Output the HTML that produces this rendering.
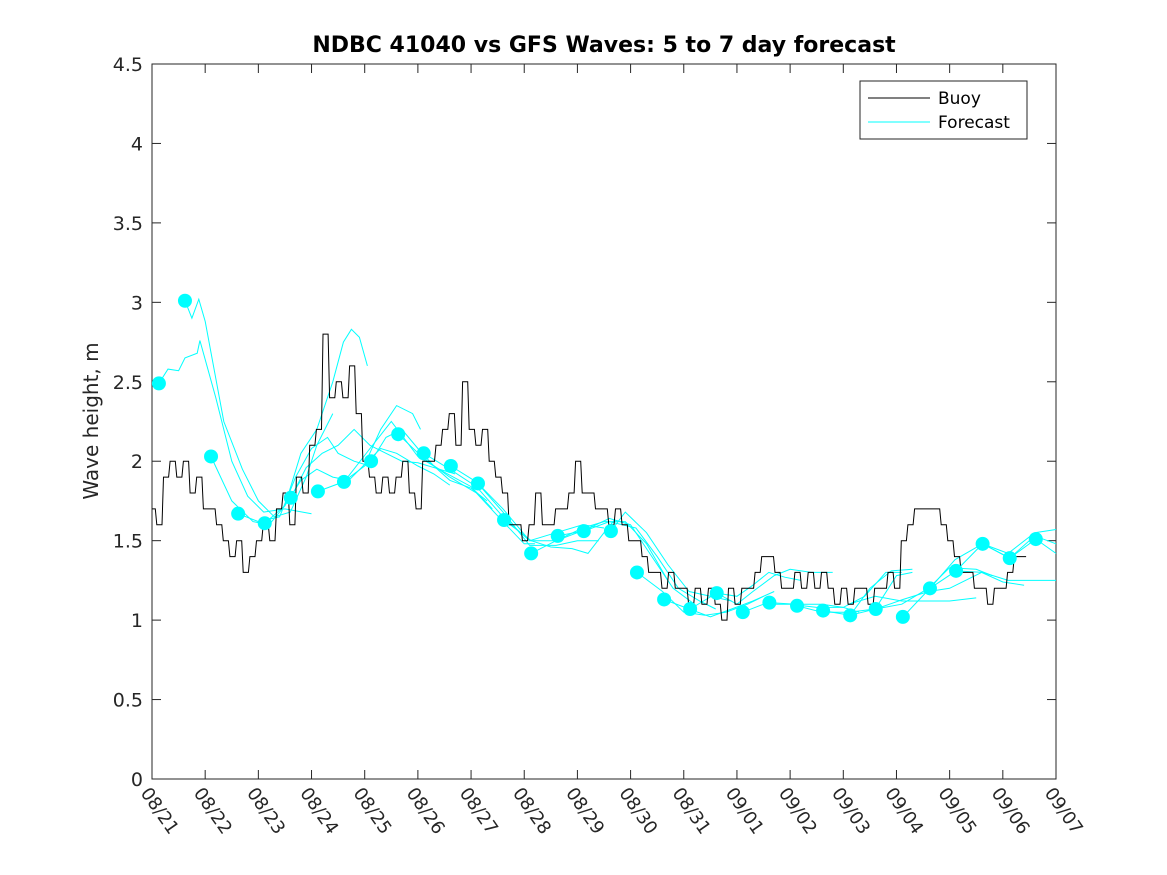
<!DOCTYPE html>
<html><head><meta charset="utf-8"><style>
body{margin:0;background:#fff;}
svg{display:block;font-family:"DejaVu Sans","Liberation Sans",sans-serif;}
</style></head><body>
<svg id="chart" width="1167" height="875" xmlns="http://www.w3.org/2000/svg">
<rect width="1167" height="875" fill="#fff"/>
<text x="604" y="52" text-anchor="middle" font-size="22" font-weight="bold" fill="#000">NDBC 41040 vs GFS Waves: 5 to 7 day forecast</text>
<text transform="translate(98,421) rotate(-90)" text-anchor="middle" font-size="20" fill="#262626">Wave height, m</text>
<g id="grid"></g>
<g id="series"></g>
<g>
<rect x="860" y="81" width="167" height="58" fill="#fff" stroke="#262626" stroke-width="1"/>
<line x1="868" y1="98" x2="930" y2="98" stroke="#000" stroke-width="1"/>
<text x="938" y="104" font-size="17" fill="#000">Buoy</text>
<line x1="868" y1="122" x2="930" y2="122" stroke="#00ffff" stroke-width="1"/>
<text x="938" y="128" font-size="17" fill="#000">Forecast</text>
</g>
</svg>
<script>
const xTickLabels=["08/21","08/22","08/23","08/24","08/25","08/26","08/27","08/28","08/29","08/30","08/31","09/01","09/02","09/03","09/04","09/05","09/06","09/07"];
const yTicks=[0,0.5,1,1.5,2,2.5,3,3.5,4,4.5];
const yTickLabels=["0","0.5","1","1.5","2","2.5","3","3.5","4","4.5"];
const buoyStart=0;
const buoyStep=0.125;
const buoyValues=[1.7,1.6,1.9,2.0,1.9,2.0,1.8,1.9,
1.7,1.7,1.6,1.5,1.4,1.5,1.3,1.4,
1.5,1.6,1.5,1.7,1.8,1.6,1.9,1.8,
2.1,2.2,2.8,2.4,2.5,2.4,2.6,2.3,
2.0,1.9,1.8,1.9,1.8,1.9,2.0,1.8,
1.7,2.0,2.0,2.1,2.2,2.3,2.1,2.5,
2.2,2.1,2.2,2.0,1.9,1.8,1.6,1.6,
1.5,1.6,1.8,1.6,1.6,1.7,1.7,1.8,
2.0,1.8,1.8,1.7,1.7,1.6,1.7,1.6,
1.5,1.5,1.4,1.3,1.3,1.2,1.3,1.2,
1.2,1.1,1.2,1.1,1.2,1.1,1.0,1.2,
1.1,1.2,1.2,1.3,1.4,1.4,1.3,1.2,
1.2,1.3,1.2,1.3,1.2,1.3,1.2,1.1,
1.2,1.1,1.2,1.2,1.1,1.2,1.2,1.3,
1.2,1.5,1.6,1.7,1.7,1.7,1.7,1.6,
1.5,1.4,1.3,1.3,1.2,1.2,1.1,1.2,
1.2,1.3,1.4,1.4];
const markerDays=[0.13,0.62,1.11,1.62,2.12,2.61,3.12,3.61,4.12,4.63,5.11,5.62,6.13,6.62,7.13,7.63,8.12,8.63,9.12,9.63,10.12,10.62,11.11,11.61,12.13,12.62,13.13,13.61,14.12,14.63,15.12,15.62,16.13,16.62];
const markerValues=[2.49,3.01,2.03,1.67,1.61,1.77,1.81,1.87,2.00,2.17,2.05,1.97,1.86,1.63,1.42,1.53,1.56,1.56,1.30,1.13,1.07,1.17,1.05,1.11,1.09,1.06,1.03,1.07,1.02,1.20,1.31,1.48,1.39,1.51];
const forecastLines=[
[[0.13,2.49],[0.3,2.58],[0.5,2.57],[0.62,2.65],[0.85,2.68],[0.9,2.76],[1.2,2.4],[1.5,2.0],[1.8,1.78],[2.1,1.68],[2.5,1.7],[3.0,1.67]],
[[0.62,3.01],[0.75,2.9],[0.88,3.02],[1.0,2.88],[1.35,2.25],[1.7,1.95],[2.0,1.75],[2.3,1.65],[2.6,1.68],[2.9,1.9],[3.1,2.1],[3.4,2.3]],
[[1.11,2.03],[1.5,1.75],[1.9,1.62],[2.2,1.6],[2.5,1.72],[2.8,2.05],[3.1,2.2],[3.4,2.5],[3.6,2.75],[3.75,2.83],[3.9,2.78],[4.05,2.6]],
[[1.62,1.67],[2.0,1.62],[2.4,1.65],[2.7,1.9],[3.0,2.08],[3.3,2.15],[3.5,2.05],[3.8,2.0],[4.0,1.98],[4.3,2.2],[4.6,2.35],[4.9,2.3],[5.05,2.2]],
[[2.12,1.61],[2.5,1.72],[2.8,1.88],[3.1,1.95],[3.4,1.9],[3.7,1.88],[4.0,1.98],[4.3,2.08],[4.6,2.05],[5.0,1.97],[5.3,1.92],[5.6,1.85]],
[[2.61,1.77],[2.9,1.96],[3.2,2.05],[3.5,2.1],[3.8,2.2],[4.1,2.1],[4.4,2.05],[4.7,2.0],[5.0,1.99],[5.4,1.95],[5.7,1.92]],
[[3.12,1.81],[3.6,1.87],[4.12,2.0],[4.4,2.15],[4.7,2.2],[5.0,2.08],[5.3,1.97],[5.6,1.88],[6.0,1.83],[6.3,1.75]],
[[3.61,1.87],[4.1,2.08],[4.5,2.25],[5.0,2.03],[5.5,1.93],[6.0,1.84],[6.4,1.7]],
[[4.63,2.17],[5.1,2.02],[5.6,1.9],[6.1,1.8],[6.6,1.62],[7.0,1.48],[7.2,1.48]],
[[5.11,2.05],[5.6,1.95],[6.1,1.84],[6.6,1.65],[7.1,1.5],[7.6,1.5],[8.0,1.55]],
[[5.62,1.97],[6.1,1.87],[6.6,1.68],[7.1,1.47],[7.6,1.47],[8.0,1.5],[8.4,1.5]],
[[6.13,1.86],[6.6,1.7],[7.1,1.5],[7.6,1.55],[8.1,1.6],[8.5,1.58]],
[[6.62,1.63],[7.13,1.5],[7.5,1.46],[7.9,1.45],[8.2,1.42],[8.5,1.55],[8.7,1.63],[9.0,1.6]],
[[7.13,1.42],[7.6,1.5],[8.1,1.58],[8.5,1.62],[8.9,1.62],[9.3,1.48],[9.7,1.25]],
[[7.63,1.53],[8.1,1.56],[8.6,1.64],[9.0,1.6],[9.4,1.4],[9.8,1.2],[10.2,1.1]],
[[8.12,1.56],[8.6,1.62],[9.1,1.58],[9.5,1.4],[9.9,1.2],[10.3,1.12],[10.6,1.07]],
[[8.63,1.56],[8.9,1.68],[9.3,1.55],[9.7,1.35],[10.1,1.18],[10.5,1.15],[10.9,1.12]],
[[9.12,1.3],[9.6,1.18],[10.0,1.05],[10.4,1.03],[10.8,1.05],[11.2,1.1],[11.5,1.15]],
[[9.63,1.13],[10.1,1.07],[10.5,1.02],[10.9,1.07],[11.3,1.12],[11.7,1.18]],
[[10.12,1.07],[10.62,1.17],[11.0,1.15],[11.3,1.22],[11.6,1.3],[11.9,1.27],[12.2,1.25]],
[[10.62,1.17],[11.0,1.1],[11.3,1.18],[11.7,1.28],[12.0,1.32],[12.4,1.3],[12.8,1.3]],
[[11.11,1.05],[11.5,1.1],[12.0,1.1],[12.5,1.08],[13.0,1.08],[13.3,1.05]],
[[11.61,1.11],[12.1,1.1],[12.6,1.1],[13.0,1.08],[13.4,1.15],[13.8,1.3],[14.1,1.3]],
[[12.13,1.09],[12.6,1.05],[13.1,1.05],[13.6,1.07],[14.0,1.28],[14.3,1.3]],
[[12.62,1.06],[13.13,1.03],[13.5,1.2],[13.9,1.31],[14.3,1.32]],
[[13.13,1.03],[13.6,1.07],[14.1,1.1],[14.6,1.2],[15.0,1.33],[15.5,1.32],[15.8,1.28]],
[[13.61,1.07],[14.12,1.13],[14.6,1.18],[15.0,1.2],[15.6,1.3],[16.0,1.24],[16.4,1.22]],
[[14.12,1.02],[14.63,1.2],[15.12,1.31],[15.62,1.3],[16.1,1.25],[16.5,1.25],[17.0,1.25]],
[[14.63,1.2],[15.1,1.38],[15.62,1.48],[16.1,1.42],[16.6,1.55],[17.0,1.57]],
[[15.12,1.31],[15.62,1.48],[16.13,1.39],[16.6,1.53],[17.0,1.48]],
[[15.62,1.48],[16.13,1.39],[16.62,1.51],[17.0,1.42]],
[[13.1,1.1],[13.6,1.15],[14.1,1.12],[14.6,1.12],[15.0,1.12],[15.5,1.14]]
];
const NS="http://www.w3.org/2000/svg";
const L=152,R=1056,T=64,B=779,xMax=17,yMax=4.5;
function xs(d){return L+(R-L)*d/xMax;}
function ys(v){return B-(B-T)*v/yMax;}
function mk(tag,attrs,parent){const e=document.createElementNS(NS,tag);for(const k in attrs)e.setAttribute(k,attrs[k]);parent.appendChild(e);return e;}
const grid=document.getElementById('grid');
const ser=document.getElementById('series');
const frame=mk('rect',{x:L,y:T,width:R-L,height:B-T,fill:'none',stroke:'#262626','stroke-width':1},grid);


yTicks.forEach((v,i)=>{
  const y=ys(v);
  const t1=mk('line',{x1:L,y1:y,x2:L+9,y2:y,stroke:'#262626'},grid);
  
  
  const t2=mk('line',{x1:R,y1:y,x2:R-9,y2:y,stroke:'#262626'},grid);
  
  
  const tx=mk('text',{x:L-9,y:y+7,'text-anchor':'end','font-size':19,fill:'#262626'},grid);
  tx.textContent=yTickLabels[i];
  
  
});
xTickLabels.forEach((lab,i)=>{
  const x=xs(i);
  const t1=mk('line',{x1:x,y1:B,x2:x,y2:B-9,stroke:'#262626'},grid);
  
  
  const t2=mk('line',{x1:x,y1:T,x2:x,y2:T+9,stroke:'#262626'},grid);
  
  
  const tx=mk('text',{transform:`translate(${x-12},${B+14}) rotate(55)`,'font-size':18,fill:'#262626'},grid);
  tx.textContent=lab;
  
  
});
let d='';
buoyValues.forEach((v,i)=>{
  const x0=xs(buoyStart+i*buoyStep), x1=xs(buoyStart+(i+1)*buoyStep), y=ys(v);
  const xa=x0+(x1-x0)*0.5;
  if(i===0) d+='M'+x0.toFixed(1)+' '+y.toFixed(1);
  else d+='L'+x0.toFixed(1)+' '+y.toFixed(1);
  d+='L'+xa.toFixed(1)+' '+y.toFixed(1);
  if(i<buoyValues.length-1){const yn=ys(buoyValues[i+1]);d+='L'+(xa+1.5).toFixed(1)+' '+yn.toFixed(1);}
});
forecastLines.forEach(line=>{
  const p=mk('polyline',{points:line.map(q=>xs(q[0]).toFixed(1)+','+ys(q[1]).toFixed(1)).join(' '),fill:'none',stroke:'#00ffff','stroke-width':1},ser);
  
  
});
const bp=mk('path',{d:d,fill:'none',stroke:'#000','stroke-width':1},ser);


markerDays.forEach((dd,i)=>{
  const c=mk('circle',{cx:xs(dd),cy:ys(markerValues[i]),r:7,fill:'#00ffff'},ser);
  
  
});
</script>
</body></html>
